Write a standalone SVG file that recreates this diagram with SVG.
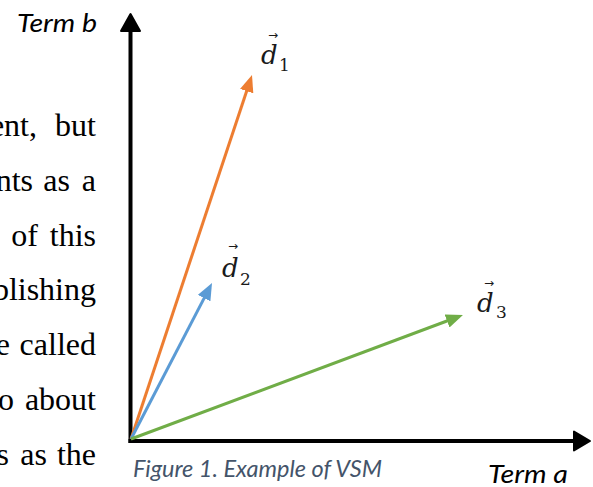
<svg xmlns="http://www.w3.org/2000/svg" width="593" height="487" viewBox="0 0 593 487">
<style>
.body{font-family:"Liberation Serif","Times New Roman",serif;font-size:32px;fill:#000}
.term{font-family:Lato,"Liberation Sans",sans-serif;font-style:italic;font-size:26px;fill:#000}
.cap{font-family:Lato,"Liberation Sans",sans-serif;font-style:italic;font-size:22.5px;fill:#44546A}
.dv{font-family:"DejaVu Serif",serif;font-style:italic;font-size:26px;fill:#1a1a1a}
.sub{font-family:"DejaVu Serif",serif;font-size:17px;fill:#1a1a1a}
.acc{font-family:"DejaVu Sans",sans-serif;font-size:12px;fill:#1a1a1a}
.axis{stroke:#000;stroke-width:4;fill:none}
.head{fill:#000;stroke:#000;stroke-width:2;stroke-linejoin:round}
.vec{stroke-width:3;fill:none}
</style>
<defs>
<marker id="mo" markerUnits="userSpaceOnUse" markerWidth="18" markerHeight="14" refX="7" refY="7" orient="auto"><path d="M0,0 L17,7 L0,14 Z" fill="#ED7D31"/></marker>
<marker id="mb" markerUnits="userSpaceOnUse" markerWidth="18" markerHeight="14" refX="7" refY="7" orient="auto"><path d="M0,0 L17,7 L0,14 Z" fill="#5B9BD5"/></marker>
<marker id="mg" markerUnits="userSpaceOnUse" markerWidth="18" markerHeight="14" refX="7" refY="7" orient="auto"><path d="M0,0 L17,7 L0,14 Z" fill="#70AD47"/></marker>
</defs>
<rect width="593" height="487" fill="#fff"/>
<g id="bodytext" class="body" text-anchor="end">
<text y="136"><tspan x="37">ent,</tspan><tspan x="96">but</tspan></text>
<text y="191"><tspan x="33">nts</tspan><tspan x="70">as</tspan><tspan x="96">a</tspan></text>
<text y="246"><tspan x="38">of</tspan><tspan x="96">this</tspan></text>
<text y="300"><tspan x="96">blishing</tspan></text>
<text y="355"><tspan x="10">e</tspan><tspan x="96">called</tspan></text>
<text y="410"><tspan x="14">o</tspan><tspan x="96">about</tspan></text>
<text y="465"><tspan x="9">s</tspan><tspan x="47">as</tspan><tspan x="96">the</tspan></text>
</g>
<g id="axes">
<line class="axis" x1="130.5" y1="443" x2="130.5" y2="30"/>
<polygon class="head" points="130.5,14 121,31 140,31"/>
<line class="axis" x1="128.5" y1="441" x2="575" y2="441"/>
<polygon class="head" points="590,441 574,431.5 574,450.5"/>
</g>
<g id="connectors">
<line class="vec" stroke="#ED7D31" x1="131" y1="439" x2="248.85" y2="84.49" marker-end="url(#mo)"/>
<line class="vec" stroke="#5B9BD5" x1="131" y1="439" x2="207.4" y2="291.9" marker-end="url(#mb)"/>
<line class="vec" stroke="#70AD47" x1="131" y1="439" x2="453.6" y2="318.5" marker-end="url(#mg)"/>
</g>
<g id="label-termb"><text class="term" x="17" y="32" textLength="80" lengthAdjust="spacingAndGlyphs">Term b</text></g>
<g id="label-terma"><text class="term" x="488" y="483" textLength="80" lengthAdjust="spacingAndGlyphs">Term a</text></g>
<g id="caption"><text class="cap" x="133" y="477" textLength="249" lengthAdjust="spacingAndGlyphs">Figure 1. Example of VSM</text></g>
<g id="d1">
<text class="acc" x="273" y="39" text-anchor="middle">→</text>
<text class="dv" x="261" y="64">d</text>
<text class="sub" x="279" y="71">1</text>
</g>
<g id="d2">
<text class="acc" x="233" y="250" text-anchor="middle">→</text>
<text class="dv" x="222" y="277">d</text>
<text class="sub" x="240" y="285">2</text>
</g>
<g id="d3">
<text class="acc" x="489" y="287" text-anchor="middle">→</text>
<text class="dv" x="477" y="312">d</text>
<text class="sub" x="496" y="318">3</text>
</g>
</svg>
